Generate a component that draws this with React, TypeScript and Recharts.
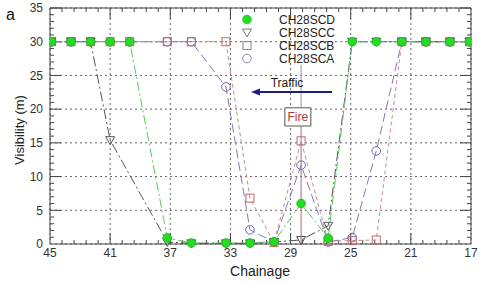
import React from 'react';
import { ComposedChart, Line, XAxis, YAxis, CartesianGrid, ReferenceLine, ReferenceArea } from 'recharts';

// sensor positions (chainage) and visibility readings (m)
const chainage = [44.9, 43.6, 42.3, 41.0, 39.7, 37.2, 35.6, 33.3, 31.7, 30.1, 28.3, 26.5, 24.9, 23.3, 21.6, 20.0, 18.4, 17.1];
const scd = [30, 30, 30, 30, 30, 0.9, 0.15, 0.15, 0.15, 0.35, 6.0, 0.85, 30, 30, 30, 30, 30, 30];
const scc = [30, 30, 30, 15.4, null, 0.3, 0.1, 0.1, 0.1, 0.3, 0.6, 2.7, 30, 30, 30, 30, 30, 30];
const scb = [30, 30, 30, 30, 30, 30, 30, 30, 6.8, 0.2, 15.3, 0.4, 0.5, 0.6, 30, 30, 30, 30];
const sca = [30, 30, 30, 30, 30, 30, 30, 23.3, 2.1, 0.3, 11.7, 0.3, 0.95, 13.8, 30, 30, 30, 30];

const xTicks = [45, 41, 37, 33, 29, 25, 21, 17];
const yTicks = [0, 5, 10, 15, 20, 25, 30, 35];
const fireAt = 28.3;

const data = chainage.map((c, i) => ({ c, scd: scd[i], scc: scc[i], scb: scb[i], sca: sca[i] }));

const FONT = '"Liberation Sans", Arial, sans-serif';
const AXIS = '#444';

// minor ticks: x every 0.8, y every 1
const xMinor = Array.from({ length: 36 }, (_, k) => +(45 - 0.8 * k).toFixed(2));
const yMinor = Array.from({ length: 36 }, (_, k) => k);

const makeDot = (shape: string, stroke: string, fill: string) => (props: any) => {
  const { cx, cy, index } = props;
  const key = `${shape}-${index}`;
  if (cx == null || cy == null || isNaN(cy)) return <g key={key} />;
  if (shape === 'tri')
    return <path key={key} d={`M${cx - 4.5},${cy - 3.5}L${cx + 4.5},${cy - 3.5}L${cx},${cy + 4.5}Z`} stroke={stroke} fill={fill} strokeWidth={1} />;
  if (shape === 'sq')
    return <rect key={key} x={cx - 4} y={cy - 4} width={8} height={8} stroke={stroke} fill={fill} strokeWidth={1} />;
  return <circle key={key} cx={cx} cy={cy} r={4.3} stroke={stroke} fill={fill} strokeWidth={1} />;
};

const tickLines = () => {
  const out: React.ReactNode[] = [];
  xMinor.forEach((x, k) => {
    if (k === 0 || k === xMinor.length - 1) return;
    const len = k % 5 === 0 ? 1.6 : 0.6;
    out.push(<ReferenceLine key={`xb${k}`} segment={[{ x, y: 0 }, { x, y: len }]} stroke={AXIS} ifOverflow="visible" />);
    out.push(<ReferenceLine key={`xt${k}`} segment={[{ x, y: 35 }, { x, y: 35 - len }]} stroke={AXIS} ifOverflow="visible" />);
  });
  yMinor.forEach((y, k) => {
    if (k === 0) return;
    const len = k % 5 === 0 ? 0.73 : 0.27;
    out.push(<ReferenceLine key={`yl${k}`} segment={[{ x: 45, y }, { x: 45 - len, y }]} stroke={AXIS} ifOverflow="visible" />);
    out.push(<ReferenceLine key={`yr${k}`} segment={[{ x: 17, y }, { x: 17 + len, y }]} stroke={AXIS} ifOverflow="visible" />);
  });
  return out;
};

const legendItems = [
  { name: 'CH28SCD', shape: 'circle', stroke: '#22cc22', fill: '#22dd22' },
  { name: 'CH28SCC', shape: 'tri', stroke: '#777', fill: 'none' },
  { name: 'CH28SCB', shape: 'sq', stroke: '#888', fill: 'none' },
  { name: 'CH28SCA', shape: 'circle', stroke: '#8888aa', fill: 'none' },
];

export default function App() {
  return (
    <div style={{ position: 'relative', width: 480, height: 283, fontFamily: FONT, background: '#fff' }}>
      <style>{`body{margin:0}`}</style>
      <ComposedChart width={480} height={283} data={data} margin={{ top: 8, right: 9, left: 10, bottom: 9 }}>
        <CartesianGrid stroke="#666" strokeDasharray="2 3" verticalValues={xTicks} horizontalValues={yTicks} />
        <XAxis
          dataKey="c"
          type="number"
          domain={[17, 45]}
          reversed
          ticks={xTicks}
          height={30}
          tickSize={0}
          tickMargin={4}
          stroke={AXIS}
          tick={{ fill: '#333', fontSize: 12, fontFamily: FONT }}
          allowDataOverflow
        />
        <YAxis
          type="number"
          domain={[0, 35]}
          ticks={yTicks}
          width={40}
          tickSize={0}
          tickMargin={7}
          stroke={AXIS}
          tick={{ fill: '#333', fontSize: 12, fontFamily: FONT }}
        />
        <ReferenceLine y={35} stroke={AXIS} />
        <ReferenceLine x={17} stroke={AXIS} />
        {tickLines()}
        <ReferenceLine segment={[{ x: fireAt, y: 26.6 }, { x: fireAt, y: 20.2 }]} stroke="#999" ifOverflow="visible" />
        <ReferenceLine segment={[{ x: fireAt, y: 17.5 }, { x: fireAt, y: 0 }]} stroke="#b86a6a" ifOverflow="visible" />
        <ReferenceArea
          x1={29.38}
          x2={27.65}
          y1={17.5}
          y2={20.2}
          fill="#fff"
          fillOpacity={1}
          stroke="#555"
          label={{ value: 'Fire', fill: '#b03a3a', fontSize: 12, fontFamily: FONT, position: 'center' }}
        />
        <Line dataKey="sca" stroke="#7b7bbf" strokeWidth={1} strokeDasharray="9 4" dot={makeDot('circle', '#6b6bb0', 'none')} isAnimationActive={false} connectNulls />
        <Line dataKey="scb" stroke="#d08a8a" strokeWidth={1} strokeDasharray="4 3" dot={makeDot('sq', '#c06a6a', 'none')} isAnimationActive={false} connectNulls />
        <Line dataKey="scc" stroke="#555" strokeWidth={1} strokeDasharray="10 3 2 3" dot={makeDot('tri', '#555', 'none')} isAnimationActive={false} connectNulls />
        <Line dataKey="scd" stroke="#55cc55" strokeWidth={1} strokeDasharray="9 3 2 3" dot={makeDot('circle', '#22bb22', '#22dd22')} isAnimationActive={false} connectNulls />
      </ComposedChart>
      <svg width={480} height={283} style={{ position: 'absolute', left: 0, top: 0, pointerEvents: 'none' }}>
        <text x={6} y={20} fontSize={16} fill="#111" fontFamily={FONT}>a</text>
        <text x={19} y={130} fontSize={13} fill="#222" fontFamily={FONT} textAnchor="middle" transform="rotate(-90 19 130)" dominantBaseline="central">
          Visibility (m)
        </text>
        <text x={260} y={276} fontSize={14} fill="#222" fontFamily={FONT} textAnchor="middle">Chainage</text>
        {legendItems.map((it, i) => {
          const cy = 19.5 + i * 13;
          const cx = 247;
          let mark;
          if (it.shape === 'tri') mark = <path d={`M${cx - 4.5},${cy - 3.5}L${cx + 4.5},${cy - 3.5}L${cx},${cy + 4.5}Z`} stroke={it.stroke} fill="none" />;
          else if (it.shape === 'sq') mark = <rect x={cx - 4} y={cy - 4} width={8} height={8} stroke={it.stroke} fill="none" />;
          else mark = <circle cx={cx} cy={cy} r={4.3} stroke={it.stroke} fill={it.fill} />;
          return (
            <g key={it.name}>
              {mark}
              <text x={279} y={cy + 4.5} fontSize={12} fill="#222" fontFamily={FONT}>{it.name}</text>
            </g>
          );
        })}
        <text x={287} y={87} fontSize={12} fill="#222" fontFamily={FONT} textAnchor="middle">Traffic</text>
        <line x1={332} y1={92} x2={258} y2={92} stroke="#1c1c8a" strokeWidth={2} />
        <path d="M251,92 L260,88.5 L260,95.5 Z" fill="#1c1c8a" />
      </svg>
    </div>
  );
}
